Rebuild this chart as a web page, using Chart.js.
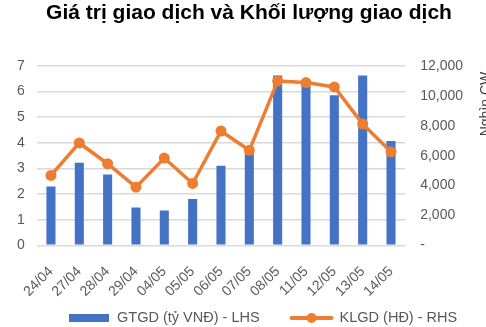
<!DOCTYPE html>
<html>
<head>
<meta charset="utf-8">
<script src="https://cdn.jsdelivr.net/npm/chart.js@4/dist/chart.umd.min.js"></script>
<style>
  html, body { margin: 0; padding: 0; background: #fff; }
  #wrap { width: 486px; height: 327px; }
</style>
</head>
<body>
<div id="wrap"><canvas id="tradeChart" width="486" height="327"></canvas></div>
<script>
// Phiên giao dịch
const dates = ['24/04', '27/04', '28/04', '29/04', '04/05', '05/05', '06/05', '07/05', '08/05', '11/05', '12/05', '13/05', '14/05'];
// GTGD (tỷ VNĐ) - trục trái
const gtgd = [2.3, 3.22, 2.77, 1.48, 1.36, 1.81, 3.11, 3.7, 6.63, 6.4, 5.86, 6.63, 4.07];
// KLGD (nghìn CW) - trục phải
const klgd = [4680, 6850, 5460, 3890, 5840, 4140, 7650, 6360, 11000, 10890, 10600, 8120, 6260];

const BLUE = '#4472C4';
const ORANGE = '#ED7D31';
const GREY = '#595959';
const FONT = "'Liberation Sans', Arial, sans-serif";

// Tiêu đề, chú thích và tiêu đề trục phải (chữ xoay đọc từ dưới lên)
const extraText = {
  id: 'extraText',
  afterDraw(chart) {
    const ctx = chart.ctx;
    const ds = chart.data.datasets;
    ctx.save();
    ctx.font = 'bold 21px ' + FONT;
    ctx.fillStyle = '#000';
    ctx.textAlign = 'center';
    ctx.textBaseline = 'alphabetic';
    ctx.fillText('Giá trị giao dịch và Khối lượng giao dịch', 249, 19);

    // chú thích
    const ly = 318;
    ctx.font = '14.5px ' + FONT;
    ctx.textAlign = 'left';
    ctx.textBaseline = 'middle';
    ctx.fillStyle = BLUE;
    ctx.fillRect(69, ly - 4, 40, 8);
    ctx.fillStyle = GREY;
    ctx.fillText(ds[0].label, 117, ly);
    let x = 117 + ctx.measureText(ds[0].label).width + 30;
    ctx.strokeStyle = ORANGE;
    ctx.lineWidth = 4;
    ctx.lineCap = 'round';
    ctx.beginPath(); ctx.moveTo(x + 2, ly); ctx.lineTo(x + 42, ly); ctx.stroke();
    ctx.fillStyle = ORANGE;
    ctx.beginPath(); ctx.arc(x + 22, ly, 5, 0, Math.PI * 2); ctx.fill();
    ctx.fillStyle = GREY;
    ctx.fillText(ds[1].label, x + 50, ly);

    ctx.translate(479, 104);
    ctx.rotate(-Math.PI / 2);
    ctx.font = '14px ' + FONT;
    ctx.fillStyle = '#404040';
    ctx.textAlign = 'center';
    ctx.textBaseline = 'top';
    ctx.fillText('Nghìn CW', 0, 0);
    ctx.restore();
  }
};

const ctx = document.getElementById('tradeChart').getContext('2d');
const tradeChart = new Chart(ctx, {
  data: {
    labels: dates,
    datasets: [{
      type: 'bar',
      label: 'GTGD (tỷ VNĐ) - LHS',
      data: gtgd,
      yAxisID: 'y',
      backgroundColor: BLUE,
      barPercentage: 0.64,
      categoryPercentage: 0.5,
      order: 1
    }, {
      type: 'line',
      label: 'KLGD (HĐ) - RHS',
      data: klgd,
      yAxisID: 'y1',
      borderColor: ORANGE,
      backgroundColor: ORANGE,
      borderWidth: 3.5,
      pointRadius: 5.5,
      pointBorderWidth: 0,
      pointStyle: 'circle',
      tension: 0,
      order: 0
    }]
  },
  options: {
    responsive: false,
    animation: false,
    devicePixelRatio: 1,
    layout: { padding: { left: 5, right: 8, top: 66, bottom: 17 } },
    plugins: {
      title: { display: false },
      legend: { display: false },
      tooltip: { enabled: false }
    },
    scales: {
      x: {
        grid: { display: false },
        border: { display: false },
        ticks: {
          color: GREY,
          font: { family: FONT, size: 14 },
          padding: 10,
          minRotation: 45,
          maxRotation: 45,
          autoSkip: false
        }
      },
      y: {
        position: 'left',
        min: 0,
        max: 7,
        border: { display: false },
        grid: { color: '#D9D9D9', lineWidth: 1.5, drawTicks: false },
        ticks: {
          stepSize: 1,
          padding: 12,
          color: GREY,
          font: { family: FONT, size: 14 }
        }
      },
      y1: {
        position: 'right',
        min: 0,
        max: 12000,
        border: { display: false },
        grid: { display: false, drawTicks: false },
        ticks: {
          stepSize: 2000,
          padding: 15,
          color: GREY,
          font: { family: FONT, size: 14 },
          callback: v => v === 0 ? '-' : v.toLocaleString('en-US')
        }
      }
    }
  },
  plugins: [extraText]
});
</script>
</body>
</html>
